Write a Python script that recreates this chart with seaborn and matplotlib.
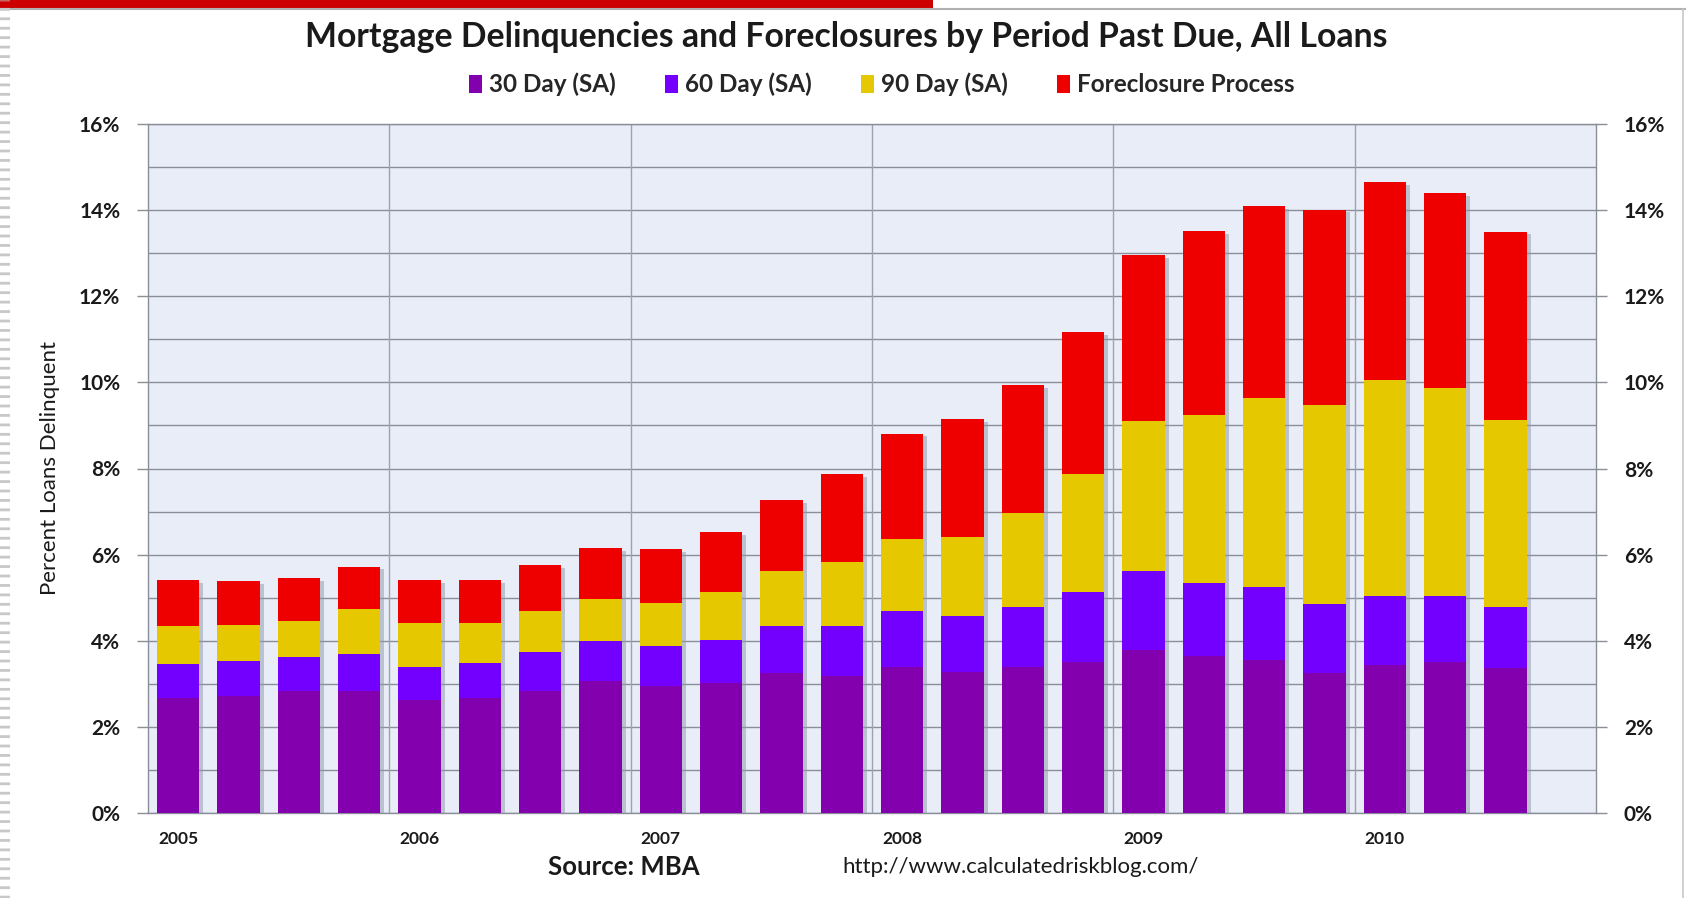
import numpy as np
import pandas as pd
import seaborn as sns
import matplotlib
matplotlib.use('Agg')
from matplotlib import pyplot as plt
from matplotlib.patches import Patch, Rectangle
from matplotlib.lines import Line2D
import matplotlib.patheffects as pe

# MBA delinquency data, 2005 Q1 .. 2010 Q3 (percent of loans)
quarters = [f'{y}Q{q}' for y in range(2005, 2011) for q in range(1, 5)][:23]
day30 = [2.68, 2.72, 2.84, 2.84, 2.62, 2.66, 2.84, 3.07, 2.95, 3.03, 3.25, 3.17,
         3.38, 3.27, 3.38, 3.50, 3.79, 3.64, 3.56, 3.26, 3.43, 3.50, 3.36]
day60 = [0.78, 0.80, 0.78, 0.85, 0.78, 0.82, 0.89, 0.92, 0.92, 0.98, 1.09, 1.17,
         1.32, 1.30, 1.41, 1.63, 1.83, 1.71, 1.68, 1.59, 1.60, 1.54, 1.43]
day90 = [0.88, 0.85, 0.83, 1.04, 1.02, 0.94, 0.97, 0.97, 1.00, 1.12, 1.28, 1.48,
         1.67, 1.85, 2.18, 2.74, 3.49, 3.89, 4.40, 4.62, 5.03, 4.82, 4.33]
foreclosure = [1.07, 1.01, 1.00, 0.99, 0.99, 0.99, 1.05, 1.19, 1.25, 1.39, 1.65, 2.05,
               2.44, 2.73, 2.96, 3.29, 3.84, 4.27, 4.45, 4.54, 4.59, 4.54, 4.38]
years = ['2005', '2006', '2007', '2008', '2009', '2010']
series_names = ['30 Day (SA)', '60 Day (SA)', '90 Day (SA)', 'Foreclosure Process']
colours = ['#8200AE', '#7300FF', '#E6C800', '#EE0000']

df = pd.DataFrame({'quarter': quarters, 'd30': day30, 'd60': day60,
                   'd90': day90, 'fc': foreclosure})
df['c30'] = df['d30']
df['c60'] = df['c30'] + df['d60']
df['c90'] = df['c60'] + df['d90']
df['cfc'] = df['c90'] + df['fc']

sns.set_style('white')
plt.rcParams['font.family'] = ['Lato', 'DejaVu Sans']

fig = plt.figure(figsize=(16.86, 8.98), dpi=100)
ax = fig.add_axes([148/1686, 1 - 813/898, (1596-148)/1686, (813-124)/898])
ax.set_facecolor('#E8EDF7')

# stacked bars: draw cumulative totals from the top down
for col, colour in zip(['cfc', 'c90', 'c60', 'c30'], colours[::-1]):
    sns.barplot(data=df, x='quarter', y=col, color=colour, saturation=1,
                width=0.7, errorbar=None, ax=ax, zorder=3, linewidth=0, edgecolor='none')
for bar in ax.patches[:23]:
    bar.set_path_effects([pe.SimplePatchShadow(offset=(3, -2), shadow_rgbFace='#9098a8', alpha=0.5),
                          pe.Normal()])

ax.set_xlim(-0.5, 23.5)
ax.set_ylim(0, 16)

# y grid: every 1%, labels every 2%
ax.set_yticks(np.arange(0, 17, 2))
ax.set_yticks(np.arange(1, 16, 2), minor=True)
ax.set_yticklabels([f'{v}%' for v in range(0, 17, 2)], fontsize=15, fontweight='bold', color='#1a1a1a')
ax.tick_params(axis='y', which='major', length=8, width=1, color='#8a8e99', direction='out', pad=12)
ax.tick_params(axis='y', which='minor', length=0)
ax.grid(axis='y', which='both', color='#8a8e99', lw=1, zorder=1)

# x: year boundary ticks, year labels under first quarter
bounds = np.arange(-0.5, 24, 4)
ax.set_xticks(bounds)
ax.set_xticklabels([])
ax.set_xticks(np.arange(0, 24, 4), minor=True)
ax.set_xticklabels(years, minor=True, fontsize=12.5, fontweight='bold', color='#1a1a1a')
ax.tick_params(axis='x', which='major', length=8, width=1, color='#8a8e99', direction='out')
ax.tick_params(axis='x', which='minor', length=0, pad=13)
for b in bounds[1:-1]:
    ax.axvline(b, color='#9ea2ad', lw=1, zorder=1)
ax.set_xlabel('')
ax.set_ylabel('')

for side in ['left', 'right', 'bottom', 'top']:
    ax.spines[side].set_color('#8a8e99')
    ax.spines[side].set_linewidth(1)

ax2 = ax.twinx()
ax2.set_ylim(0, 16)
ax2.set_yticks(np.arange(0, 17, 2))
ax2.set_yticklabels([f'{v}%' for v in range(0, 17, 2)], fontsize=15, fontweight='bold', color='#1a1a1a')
ax2.tick_params(axis='y', length=8, width=1, color='#8a8e99', direction='out', pad=12)
for side in ['left', 'right', 'bottom', 'top']:
    ax2.spines[side].set_visible(False)

fig.text(0.502, 0.959, 'Mortgage Delinquencies and Foreclosures by Period Past Due, All Loans',
         ha='center', va='center', fontsize=24.3, fontweight='bold', color='#1a1a1a')
handles = [Patch(facecolor=c, edgecolor='none', label=n) for c, n in zip(colours, series_names)]
fig.legend(handles=handles, loc='center', bbox_to_anchor=(0.523, 0.906), ncol=4, frameon=False,
           prop={'size': 17.5, 'weight': 'bold'}, handlelength=0.55, handleheight=0.75,
           handletextpad=0.3, columnspacing=2.0)
fig.text(50/1686, 1 - 468/898, 'Percent Loans Delinquent', rotation=90,
         ha='center', va='center', fontsize=16, color='#1a1a1a')
fig.text(0.370, 0.0345, 'Source: MBA', ha='center', va='center', fontsize=18.5,
         fontweight='bold', color='#1a1a1a')
fig.text(0.4994, 0.0345, 'http://www.calculatedriskblog.com/', ha='left', va='center',
         fontsize=16, color='#1a1a1a')

# slide decorations
fig.add_artist(Rectangle((0.0, 1 - 9/898), 933/1686, 9/898, transform=fig.transFigure,
                         facecolor='#CC0000', edgecolor='none'))
fig.add_artist(Line2D([0, 1], [1 - 9/898, 1 - 9/898], transform=fig.transFigure, color='#b0b0b0', lw=1.5))
fig.add_artist(Line2D([1683/1686, 1683/1686], [0, 1 - 9/898], transform=fig.transFigure, color='#c8c8c8', lw=1.2))
fig.add_artist(Line2D([4/1686, 4/1686], [0, 1], transform=fig.transFigure, color='#c8c8c8', lw=8,
                      dashes=(0.25, 0.6)))

fig.savefig('out.png', dpi=100)
